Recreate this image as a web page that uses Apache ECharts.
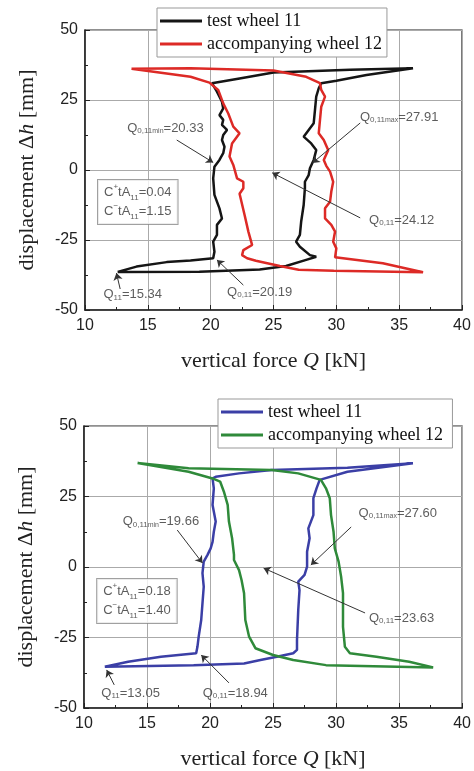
<!DOCTYPE html>
<html>
<head>
<meta charset="utf-8">
<script src="https://cdn.jsdelivr.net/npm/echarts@6/dist/echarts.min.js"></script>
<style>
  html, body { margin: 0; padding: 0; background: #fff; }
  #chart { width: 474px; height: 771px; }
</style>
</head>
<body>
<div id="chart"></div>
<script>
// upper plot: test wheel 11 (black) and accompanying wheel 12 (red), [Q kN, dh mm]
const topTest = [
  [12.6, -36.4], [19.1, -36.3], [23.9, -35.5], [26.0, -34.3], [27.6, -32.1], [28.4, -31.0],
  [27.9, -30.4], [27.1, -27.4], [26.8, -25.6], [27.1, -23.2], [27.2, -18.5], [27.4, -12.5],
  [27.5, -6.5], [27.5, -4.2], [27.8, -1.8], [27.9, 0.6], [28.2, 3.6], [28.4, 7.1],
  [28.0, 9.5], [27.4, 11.9], [27.8, 14.3], [28.2, 16.7], [28.3, 21.4], [28.4, 26.2],
  [28.6, 29.2], [28.8, 31.0], [30.0, 31.9], [32.4, 33.9], [36.1, 36.3], [31.1, 35.8],
  [25.0, 34.8], [22.3, 32.7], [20.1, 31.0], [20.5, 28.0], [20.9, 24.4], [21.0, 22.0],
  [20.7, 19.6], [21.0, 17.9], [20.9, 16.1], [21.3, 14.3], [21.0, 12.5], [20.9, 10.7],
  [21.1, 8.3], [21.0, 6.0], [20.7, 3.6], [20.3, 1.2], [20.2, -3.0], [20.3, -8.9],
  [20.7, -13.7], [20.9, -17.3], [20.5, -19.6], [20.5, -23.2], [20.2, -25.6], [20.3, -29.2],
  [20.2, -31.5], [18.4, -32.3], [16.5, -32.9], [14.1, -34.5], [12.6, -36.4]
]
const topAccomp = [
  [13.7, 36.2], [18.4, 36.3], [25.0, 35.5], [27.6, 33.3], [28.7, 31.0], [28.8, 28.6],
  [29.1, 26.2], [28.8, 22.6], [28.7, 17.9], [28.6, 13.1], [29.0, 10.7], [29.35, 7.1],
  [29.0, 3.6], [29.2, 1.5], [29.5, -0.6], [29.75, -4.2], [29.6, -7.7], [29.5, -11.3],
  [29.1, -13.7], [29.1, -17.3], [29.6, -19.6], [29.9, -22.0], [29.75, -25.6], [30.0, -28.0],
  [29.9, -31.2], [33.7, -33.3], [36.9, -36.5], [29.8, -36.0], [27.0, -35.6], [25.5, -34.3],
  [23.6, -32.4], [22.9, -31.5], [22.5, -30.4], [22.6, -28.6], [23.3, -26.8], [23.0, -22.0],
  [22.7, -16.1], [22.3, -8.5], [22.6, -6.5], [22.6, -4.2], [22.1, -3.0], [21.8, 1.8],
  [21.5, 4.8], [21.7, 9.5], [22.3, 13.1], [21.8, 15.5], [21.4, 20.2], [21.0, 23.8],
  [20.6, 28.6], [19.9, 31.2], [18.4, 33.3], [13.7, 36.2]
]

// lower plot: test wheel 11 (blue) and accompanying wheel 12 (green)
const botTest = [
  [11.65, -35.4], [18.7, -34.8], [22.7, -34.2], [24.0, -33.0], [25.3, -31.8], [26.6, -30.6],
  [26.9, -29.4], [26.9, -25.9], [27.0, -15.2], [27.1, -8.2], [27.0, -5.2], [27.5, -2.8],
  [27.7, 0.1], [27.7, 5.4], [27.9, 10.2], [27.8, 13.7], [28.2, 18.4], [28.2, 24.4],
  [28.45, 27.9], [28.7, 30.9], [30.9, 33.8], [36.1, 36.8], [30.9, 35.2], [24.9, 34.4],
  [22.3, 33.2], [20.45, 32.0], [20.2, 31.4], [20.3, 27.9], [20.2, 22.0], [20.45, 16.1],
  [20.3, 12.5], [20.2, 8.9], [20.05, 6.6], [19.8, 4.3], [19.5, 1.9], [19.4, -2.2],
  [19.5, -7.0], [19.4, -12.9], [19.3, -18.8], [19.1, -24.7], [19.0, -28.3], [18.9, -30.6],
  [16.1, -31.8], [13.5, -33.6], [11.65, -35.4]
]
const botAccomp = [
  [14.25, 36.9], [18.3, 35.0], [24.9, 34.4], [27.0, 33.2], [28.8, 30.9], [29.2, 27.9],
  [29.5, 24.4], [29.6, 18.4], [29.8, 12.5], [29.9, 6.6], [30.2, 1.9], [30.4, -3.4],
  [30.55, -9.3], [30.55, -21.2], [30.7, -28.3], [31.1, -30.6], [33.2, -31.8], [35.8, -33.6],
  [37.7, -35.6], [29.2, -34.8], [26.6, -33.0], [25.0, -31.2], [23.6, -28.8], [23.1, -24.7],
  [22.8, -18.8], [22.7, -9.3], [22.5, -4.6], [22.3, -1.1], [21.9, 2.5], [21.9, 4.3],
  [21.75, 10.2], [21.5, 16.1], [21.4, 22.0], [21.1, 26.7], [20.8, 30.3], [20.2, 31.4],
  [18.3, 33.8], [14.25, 36.9]
]

// annotations (text, where the text sits, arrow start, arrow tip)
const topNoteText = ['Q{s|0,11}{m|min}=20.33', 'Q{s|0,11}{m|max}=27.91', 'Q{s|0,11}=24.12', 'Q{s|0,11}=20.19', 'Q{s|11}=15.34']
const topNoteAt = [[16.4, 15.0], [35.0, 18.9], [35.2, -17.9], [23.9, -43.6], [13.8, -44.6]]
const topArrowFrom = [[17.3, 10.7], [31.9, 16.8], [31.9, -17.1], [22.6, -41.1], [12.8, -42.5]]
const topArrowTo = [[20.2, 2.7], [28.1, 2.5], [24.9, -1.0], [20.5, -32.1], [12.5, -36.8]]
const topBox = ['C{sup|+}tA{sub|11}=0.04', 'C{sup|−}tA{sub|11}=1.15']
const topBoxAt = [14.2, -11.4]

const botNoteText = ['Q{s|0,11}{m|min}=19.66', 'Q{s|0,11}{m|max}=27.60', 'Q{s|0,11}=23.63', 'Q{s|0,11}=18.94', 'Q{s|11}=13.05']
const botNoteAt = [[16.1, 16.0], [34.9, 19.1], [35.2, -18.1], [22.0, -44.7], [13.7, -44.7]]
const botArrowFrom = [[17.4, 13.1], [31.2, 14.2], [32.3, -16.3], [21.5, -41.1], [12.4, -41.8]]
const botArrowTo = [[19.4, 1.4], [28.0, 0.7], [24.25, -0.4], [19.3, -31.2], [11.8, -36.5]]
const botBox = ['C{sup|+}tA{sub|11}=0.18', 'C{sup|−}tA{sub|11}=1.40']
const botBoxAt = [14.2, -12.1]

const xTicks = [10, 40, 5]
const yTicks = [-50, 50, 25]

const serif = 'Liberation Serif'
const sans = 'Liberation Sans'

const xAxis = (gi) => ({
  type: 'value', gridIndex: gi, min: xTicks[0], max: xTicks[1], interval: xTicks[2],
  axisLine: { show: true, onZero: false, lineStyle: { color: '#222', width: 1.5 } },
  axisTick: { show: true, inside: true, length: 5, lineStyle: { color: '#222' } },
  minorTick: { show: true, splitNumber: 2, length: 3, lineStyle: { color: '#222' } },
  splitLine: { show: true, lineStyle: { color: '#aaa', width: 1 } },
  axisLabel: { color: '#222', fontSize: 16, fontFamily: sans, margin: 8 },
  name: 'vertical force {i|Q} [kN]',
  nameLocation: 'middle',
  nameGap: 40,
  nameTextStyle: {
    fontFamily: serif, fontSize: 22, color: '#222',
    rich: { i: { fontFamily: serif, fontSize: 22, fontStyle: 'italic', color: '#222' } }
  }
})

const yAxis = (gi) => ({
  type: 'value', gridIndex: gi, min: yTicks[0], max: yTicks[1], interval: yTicks[2],
  axisLine: { show: true, onZero: false, lineStyle: { color: '#222', width: 1.5 } },
  axisTick: { show: true, inside: true, length: 5, lineStyle: { color: '#222' } },
  minorTick: { show: true, splitNumber: 2, length: 3, lineStyle: { color: '#222' } },
  splitLine: { show: true, lineStyle: { color: '#aaa', width: 1 } },
  axisLabel: { color: '#222', fontSize: 16, fontFamily: sans, margin: 7 },
  name: 'displacement Δ{i|h} [mm]',
  nameLocation: 'middle',
  nameGap: 47,
  nameTextStyle: {
    fontFamily: serif, fontSize: 22, color: '#222',
    rich: { i: { fontFamily: serif, fontSize: 22, fontStyle: 'italic', color: '#222' } }
  }
})

const noteRich = {
  s: { fontSize: 8, fontFamily: sans, color: '#333', verticalAlign: 'bottom' },
  m: { fontSize: 7, fontFamily: sans, color: '#333', verticalAlign: 'bottom', padding: [6, 0, 0, 0] },
  sup: { fontSize: 8, fontFamily: sans, color: '#333', verticalAlign: 'top' },
  sub: { fontSize: 8, fontFamily: sans, color: '#333', verticalAlign: 'bottom' }
}

const lineSeries = (name, data, color, gi) => ({
  type: 'line', name, data, xAxisIndex: gi, yAxisIndex: gi,
  color, symbol: 'none', showSymbol: false,
  lineStyle: { color, width: 2.5 }, z: 3, animation: false
})

const noteSeries = (gi, texts, at, from, to, box, boxAt) => ({
  type: 'scatter', name: 'notes' + gi, xAxisIndex: gi, yAxisIndex: gi,
  symbolSize: 0, silent: true, animation: false, z: 5,
  label: {
    show: true, position: 'inside', align: 'center', verticalAlign: 'middle',
    fontFamily: sans, fontSize: 13, color: '#333',
    formatter: (p) => p.name, rich: noteRich
  },
  data: texts.map((t, i) => ({ name: t, value: at[i] })).concat([{
    name: box.join('\n'), value: boxAt,
    label: {
      backgroundColor: '#fff', borderColor: '#888', borderWidth: 1,
      padding: [3, 6, 3, 6], lineHeight: 19, align: 'center',
      fontSize: 13, color: '#333'
    }
  }]),
  markLine: {
    silent: true, animation: false, symbol: ['none', 'arrow'], symbolSize: 7,
    label: { show: false },
    lineStyle: { color: '#333', width: 1, type: 'solid' },
    emphasis: { disabled: true },
    data: from.map((f, i) => [{ coord: f }, { coord: to[i] }])
  }
})

const legend = (names, left, top) => ({
  data: names, orient: 'vertical', left, top,
  icon: 'rect', itemWidth: 42, itemHeight: 3, itemGap: 3,
  backgroundColor: '#fff', borderColor: '#999', borderWidth: 1,
  padding: [3, 5, 3, 3], selectedMode: false,
  textStyle: { fontFamily: serif, fontSize: 18, color: '#111', lineHeight: 20, padding: [0, 0, 0, 0] }
})

const chart = echarts.init(document.getElementById('chart'), null, { renderer: 'canvas' })
chart.setOption({
  backgroundColor: '#fff',
  animation: false,
  grid: [
    { left: 85, right: 12, top: 30, height: 280, show: true, borderColor: '#222', borderWidth: 1.2 },
    { left: 84, right: 9, top: 426, height: 282, show: true, borderColor: '#222', borderWidth: 1.2 }
  ],
  xAxis: [xAxis(0), xAxis(1)],
  yAxis: [yAxis(0), yAxis(1)],
  legend: [
    legend(['test wheel 11', 'accompanying wheel 12'], 157, 8),
    legend(['test wheel 11 ', 'accompanying wheel 12 '], 218, 399)
  ],
  series: [
    lineSeries('test wheel 11', topTest, '#151515', 0),
    lineSeries('accompanying wheel 12', topAccomp, '#dd2a26', 0),
    lineSeries('test wheel 11 ', botTest, '#3b3fa6', 1),
    lineSeries('accompanying wheel 12 ', botAccomp, '#2f8a3a', 1),
    noteSeries(0, topNoteText, topNoteAt, topArrowFrom, topArrowTo, topBox, topBoxAt),
    noteSeries(1, botNoteText, botNoteAt, botArrowFrom, botArrowTo, botBox, botBoxAt)
  ]
})
window.addEventListener('resize', () => chart.resize())
</script>
</body>
</html>
